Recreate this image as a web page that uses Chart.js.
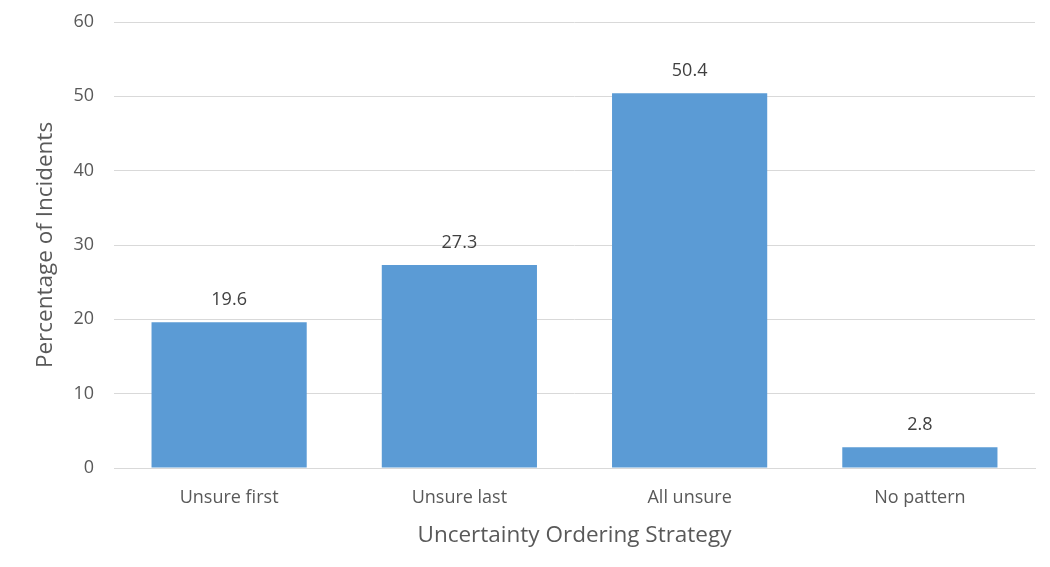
<!DOCTYPE html>
<html>
<head>
<meta charset="utf-8">
<script src="https://cdn.jsdelivr.net/npm/chart.js"></script>
<style>
  html, body { margin: 0; padding: 0; background: #fff; }
  #wrap { width: 1050px; height: 567px; }
</style>
</head>
<body>
<div id="wrap"><canvas id="myChart"></canvas></div>
<script>
const categories = ["Unsure first", "Unsure last", "All unsure", "No pattern"];
const values = [19.6, 27.3, 50.4, 2.8];
const yTicks = [0, 10, 20, 30, 40, 50, 60];

const textGray = "#595959";
const font = "'Open Sans', sans-serif";

// writes the value over each bar
const valueLabels = {
  id: "valueLabels",
  afterDatasetsDraw(chart) {
    const ctx = chart.ctx;
    const meta = chart.getDatasetMeta(0);
    ctx.save();
    ctx.font = "18px " + font;
    ctx.fillStyle = "#404040";
    ctx.textAlign = "center";
    ctx.textBaseline = "middle";
    meta.data.forEach((bar, i) => {
      ctx.fillText(values[i].toFixed(1), bar.x, bar.y - 22);
    });
    ctx.restore();
  }
};

new Chart("myChart", {
  type: "bar",
  data: {
    labels: categories,
    datasets: [{
      data: values,
      backgroundColor: "#5b9bd5",
      borderWidth: 0,
      categoryPercentage: 1,
      barPercentage: 0.674
    }]
  },
  options: {
    responsive: true,
    maintainAspectRatio: false,
    animation: false,
    layout: { padding: { top: 22, right: 15, bottom: 18, left: 0 } },
    plugins: {
      legend: { display: false },
      tooltip: { enabled: false }
    },
    scales: {
      x: {
        grid: { display: false },
        border: { color: "#d9d9d9", width: 1 },
        ticks: { color: textGray, font: { family: font, size: 18 }, padding: 11 },
        title: {
          display: true,
          text: "Uncertainty Ordering Strategy",
          color: textGray,
          font: { family: font, size: 22.5 },
          padding: { top: 2, bottom: 0 }
        },
        afterFit: s => { s.height = 81; }
      },
      y: {
        min: 0,
        max: 60,
        afterBuildTicks: s => { s.ticks = yTicks.map(v => ({ value: v })); },
        grid: { color: "#d9d9d9", drawTicks: false },
        border: { display: false },
        ticks: { color: textGray, font: { family: font, size: 18 }, padding: 20 },
        title: {
          display: true,
          text: "Percentage of Incidents",
          color: textGray,
          font: { family: font, size: 22.5 },
          padding: { top: 32, bottom: 0 }
        },
        afterFit: s => { s.width = 114; s.paddingTop = 0; s.paddingBottom = 0; }
      }
    }
  },
  plugins: [valueLabels]
});
</script>
</body>
</html>
